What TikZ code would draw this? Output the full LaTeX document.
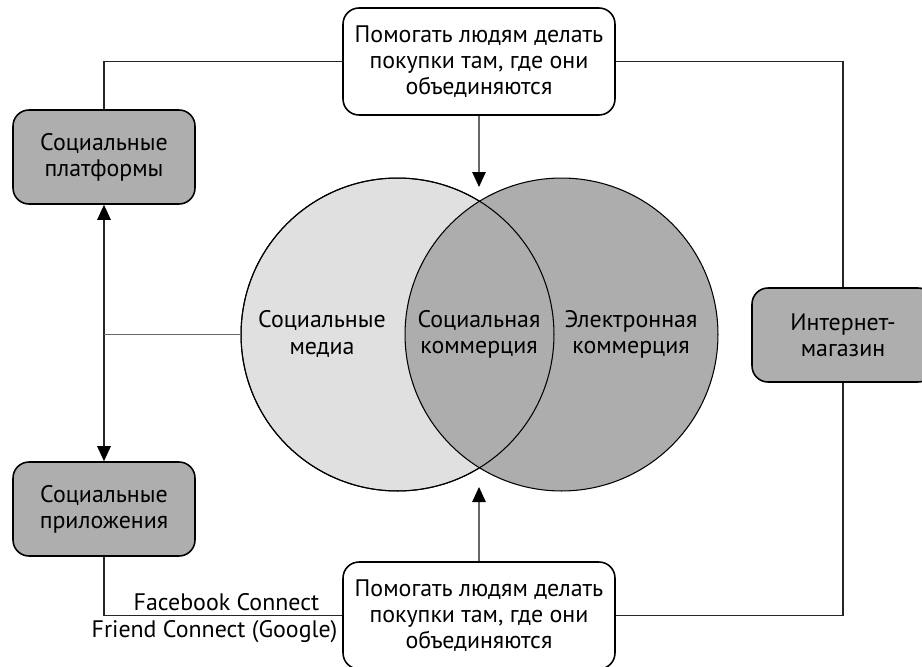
\documentclass[tikz,border=0pt]{standalone}
\usepackage{fontspec}
\setmainfont{PT Sans}
\usetikzlibrary{arrows.meta,positioning,calc}
\definecolor{boxgray}{HTML}{AEAEAE}
\definecolor{lightdisc}{HTML}{E0E0E0}
\definecolor{darkdisc}{HTML}{ADADAD}

\begin{document}
\begin{tikzpicture}[x=0.02cm, y=-0.02cm,
    txt/.style={font=\fontsize{13.6pt}{14.9pt}\selectfont, align=center},
    block/.style={txt, draw, fill=boxgray, rounded corners=0.32cm, minimum width=3.64cm, minimum height=1.88cm, line width=0.9pt},
    goal/.style={txt, draw, fill=white, rounded corners=0.32cm, minimum width=5.44cm, minimum height=2.14cm, line width=0.9pt},
    disc/.style={circle, draw, minimum size=6.26cm, line width=0.6pt},
    link/.style={draw=black!85, line width=0.6pt},
    tip/.style={-{Triangle[length=0.3cm,width=0.27cm,color=black]}},
    tipboth/.style={{Triangle[length=0.3cm,width=0.27cm,color=black]}-{Triangle[length=0.3cm,width=0.27cm,color=black]}}
]
    \useasboundingbox (0,0) rectangle (922,666);

    % Venn circles
    \node[disc, fill=lightdisc] (media) at (397.5,334.5) {};
    \node[disc, fill=darkdisc] (ecom) at (561.5,334.5) {};
    \draw[line width=0.6pt] (media.center) circle[radius=3.13cm];
    \node[txt] (medialbl) at (322,334) {Социальные\\медиа};
    \node[txt] (sociallbl) at (479,334) {Социальная\\коммерция};
    \node[txt] (ecomlbl) at (631,334) {Электронная\\коммерция};

    % Boxes
    \node[goal] (goaltop) at (479,61.5) {Помогать людям делать\\покупки там, где они\\объединяются};
    \node[goal] (goalbot) at (479,615.5) {Помогать людям делать\\покупки там, где они\\объединяются};
    \node[block] (platforms) at (104,157) {Социальные\\платформы};
    \node[block] (apps) at (104,509) {Социальные\\приложения};
    \node[block] (shop) at (843,335) {Интернет-\\магазин};

    % Arrow tips near the overlap
    \coordinate (toptip) at (479,187);
    \coordinate (bottip) at (479,487);

    % Connectors
    \draw[link] (goaltop.west) -| (platforms.north);
    \draw[link] (goaltop.east) -| (shop.north);
    \draw[link] (shop.south) |- (goalbot.east);
    \draw[link] (apps.south) |- (goalbot.west)
        node[txt, pos=0.757, above=-1pt] (fb) {Facebook Connect}
        node[txt, pos=0.732, below=-1pt] (gfc) {Friend Connect (Google)};
    \draw[link, tipboth] (platforms.south) -- (apps.north);
    \draw[link, draw=black!60] (platforms.south |- media.west) -- (media.west);
    \draw[link, draw=black!60, tip] (goaltop.south) -- (toptip);
    \draw[link, draw=black!60, tip] (goalbot.north) -- (bottip);

\end{tikzpicture}
\end{document}
